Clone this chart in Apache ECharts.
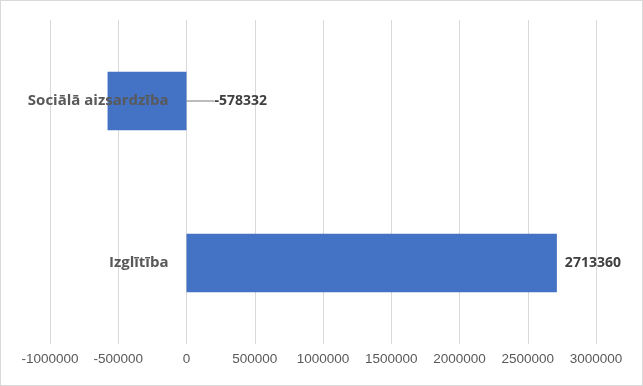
<!DOCTYPE html>
<html><head><meta charset="utf-8">
<script src="https://cdn.jsdelivr.net/npm/echarts@6/dist/echarts.min.js"></script>
<style>html,body{margin:0;padding:0;background:#fff}#c{width:641px;height:384px;border:1px solid #d9d9d9}</style>
</head><body><div id="c"></div>
<script>
const categories = ['Izglītība', 'Sociālā aizsardzība'];
const values = [2713360, -578332];
const axisMin = -1000000, axisMax = 3000000, axisStep = 500000;

const gridLeft = 49;
const chart = echarts.init(document.getElementById('c'));
const labelFont = {color: '#404040', fontFamily: 'Open Sans', fontWeight: 'bold', fontSize: 14};
chart.setOption({
  animation: false,
  grid: {left: gridLeft, right: 46, top: 19, bottom: 41, containLabel: false, outerBoundsMode: 'none'},
  xAxis: {type: 'value', min: axisMin, max: axisMax, interval: axisStep,
    axisLine: {show: false}, axisTick: {show: false},
    splitLine: {lineStyle: {color: '#d9d9d9', width: 1}},
    axisLabel: {color: '#595959', fontFamily: 'Liberation Sans', fontSize: 13.5, margin: 8,
      formatter: v => String(v)}},
  yAxis: {type: 'category', data: categories, z: 10,
    axisLine: {show: false}, axisTick: {show: false},
    axisLabel: {color: '#595959', fontFamily: 'Open Sans', fontWeight: 'bold', fontSize: 15, margin: 18}},
  series: [{type: 'bar', barCategoryGap: '64%',
    data: values.map(v => v < 0
      ? {value: v, labelLine: {show: true, lineStyle: {color: '#a6a6a6', width: 1.5}}}
      : {value: v}),
    itemStyle: {color: '#4472C4'},
    label: Object.assign({show: true, position: 'right', distance: 8}, labelFont),
    labelLayout: p => values[p.dataIndex] < 0 ? {dx: 20} : {}
  }]
});
// place the category axis on the zero line of the value axis
const zeroPx = chart.convertToPixel({xAxisIndex: 0}, 0);
chart.setOption({yAxis: {offset: -(zeroPx - gridLeft)}});
</script></body></html>
